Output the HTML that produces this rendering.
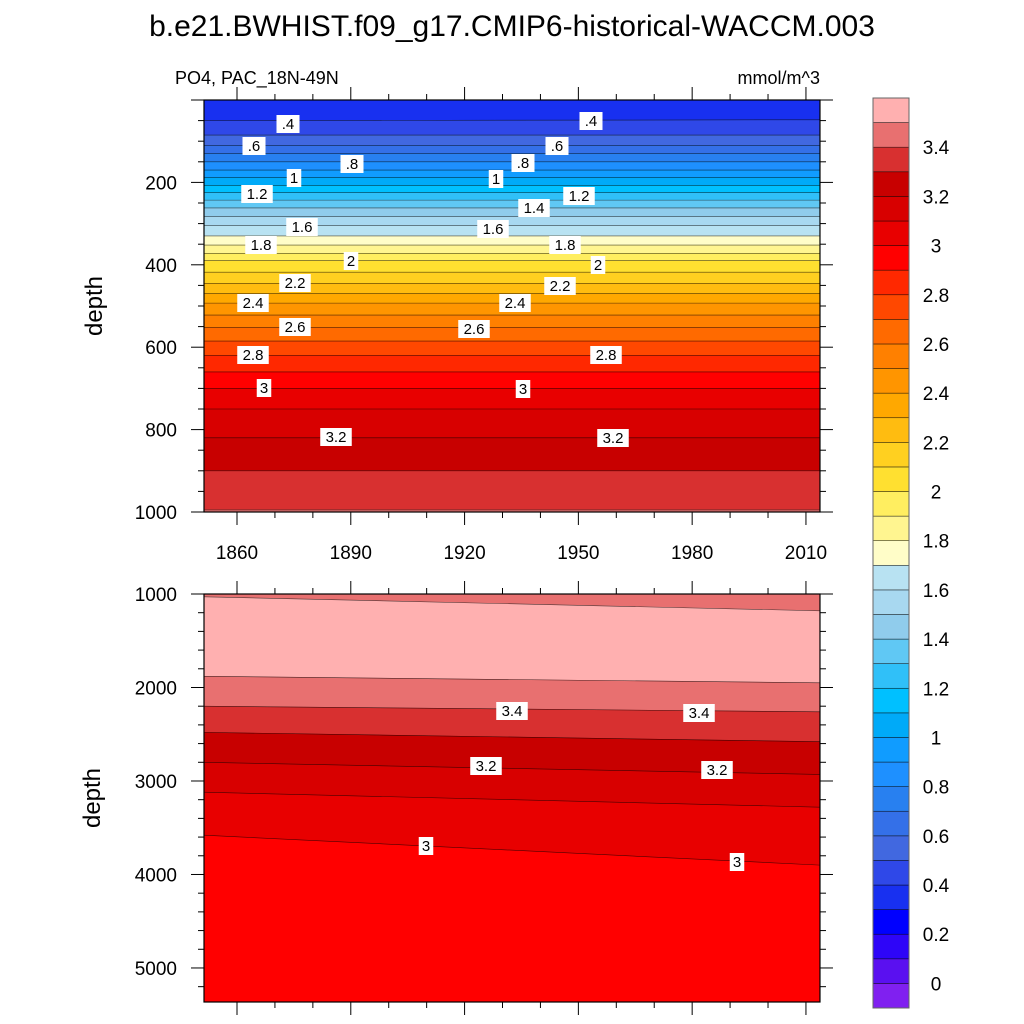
<!DOCTYPE html>
<html><head><meta charset="utf-8"><style>
html,body{margin:0;padding:0;background:#fff;width:1024px;height:1024px;overflow:hidden}
svg{display:block}
svg text{font-family:"Liberation Sans",sans-serif}
</style></head><body>
<svg id="s" width="1024" height="1024" viewBox="0 0 1024 1024">
<text x="512" y="36" font-size="30" text-anchor="middle">b.e21.BWHIST.f09_g17.CMIP6-historical-WACCM.003</text>
<text x="175" y="84" font-size="18">PO4, PAC_18N-49N</text>
<text x="820" y="84" font-size="18" text-anchor="end">mmol/m^3</text>
<g id="top"></g>
<g id="bot"></g>
<g id="cb"></g>
<g id="lab"></g>
<text transform="translate(102,306) rotate(-90)" font-size="24" text-anchor="middle">depth</text>
<text transform="translate(100,798) rotate(-90)" font-size="24" text-anchor="middle">depth</text>
</svg>
<script>
const colorLevels=[-0.1,0,0.1,0.2,0.3,0.4,0.5,0.6,0.7,0.8,0.9,1.0,1.1,1.2,1.3,1.4,1.5,1.6,1.7,1.8,1.9,2.0,2.1,2.2,2.3,2.4,2.5,2.6,2.7,2.8,2.9,3.0,3.1,3.2,3.3,3.4,3.5];
const colors=["#8020f0","#5a10f0","#2e05f8","#0000ff","#1830f0","#2f48e8","#4168e0","#3470e8","#2880f0","#1e90ff","#109cff","#00aaf8","#00c0ff","#30c0f8","#60c8f4","#90ccec","#a8d8f0","#b8e2f2","#fffdc8","#fff590","#ffee60","#ffe030","#ffd020","#ffbc10","#ffa800","#ff9500","#ff8000","#ff6a00","#ff4800","#ff2800","#ff0000","#e80000","#d80000","#c80000","#d83030","#e87070","#ffb0b0"];
const cbLabels=["0","0.2","0.4","0.6","0.8","1","1.2","1.4","1.6","1.8","2","2.2","2.4","2.6","2.8","3","3.2","3.4"];
const isoLevels=[0.4,0.5,0.6,0.7,0.8,0.9,1.0,1.1,1.2,1.3,1.4,1.5,1.6,1.7,1.8,1.9,2.0,2.1,2.2,2.3,2.4,2.5,2.6,2.7,2.8,2.9,3.0,3.1,3.2,3.3,3.4,3.5,3.5,3.4,3.3,3.2,3.1,3.0];
const isoDepthStart=[50,85,110,130,150,170,188,207,225,243,262,283,305,330,352,372,390,418,445,470,493,522,552,585,620,660,700,750,820,900,995,1030,1880,2200,2480,2800,3120,3580];
const isoDepthEnd=[48,85,110,130,150,170,188,207,225,243,262,283,305,330,352,372,390,418,445,470,493,522,552,585,620,660,700,750,820,900,995,1180,1950,2260,2580,2930,3280,3900];
const yearStart=1851.3, yearEnd=2013.7;
const xTicks=[1860,1890,1920,1950,1980,2010];
const topYTicks=[200,400,600,800,1000];
const botYTicks=[1000,2000,3000,4000,5000];

const NS="http://www.w3.org/2000/svg";
function mk(tag,attrs,parent){const e=document.createElementNS(NS,tag);for(const k in attrs)e.setAttribute(k,attrs[k]);parent.appendChild(e);return e;}
const X=yr=>237+(yr-1860)*3.793;
const panels=[{g:document.getElementById('top'),d0:0,d1:1000,y0:100,y1:512,name:'top'},
              {g:document.getElementById('bot'),d0:1000,d1:5364,y0:594,y1:1002,name:'bottom'}];
function Yf(p){return d=>p.y0+(d-p.d0)*(p.y1-p.y0)/(p.d1-p.d0);}
function colorIdx(v){for(let i=0;i<colorLevels.length;i++){if(Math.abs(colorLevels[i]-v)<1e-6)return i;}return 0;}
const xl=X(yearStart), xr=X(yearEnd);
panels.forEach(p=>{
  const Y=Yf(p);
  const cl=d=>Math.max(p.y0,Math.min(p.y1,Y(d)));
  const cp=mk('clipPath',{id:'clip-'+p.name},p.g);
  mk('rect',{x:xl,y:p.y0,width:xr-xl,height:p.y1-p.y0},cp);
  const fg=mk('g',{'clip-path':'url(#clip-'+p.name+')'},p.g);
  const n=isoLevels.length;
  for(let i=-1;i<n;i++){
    let ci;
    if(i<0) ci=colorIdx(Math.round((isoLevels[0]-0.1)*10)/10);
    else if(i==n-1) ci=colorIdx(Math.round((isoLevels[n-1]-0.1)*10)/10);
    else{const a=isoLevels[i],b=isoLevels[i+1];
      ci= Math.abs(a-b)<1e-6 ? colorIdx(a) : colorIdx(Math.min(a,b));}
    const ya1=i<0?p.y0:cl(isoDepthStart[i]), yb1=i<0?p.y0:cl(isoDepthEnd[i]);
    const ya2=i==n-1?p.y1:cl(isoDepthStart[i+1]), yb2=i==n-1?p.y1:cl(isoDepthEnd[i+1]);
    if(ya1===ya2 && yb1===yb2) continue;
    const band=mk('path',{d:`M${xl},${ya1}L${xr},${yb1}L${xr},${yb2}L${xl},${ya2}Z`,fill:colors[ci],stroke:colors[ci],'stroke-width':0.5},fg);
    
    
  }
  for(let i=0;i<n;i++){
    const a=Y(isoDepthStart[i]), b=Y(isoDepthEnd[i]);
    if((a<p.y0&&b<p.y0)||(a>p.y1&&b>p.y1)) continue;
    const ln=mk('line',{x1:xl,y1:cl(isoDepthStart[i]),x2:xr,y2:cl(isoDepthEnd[i]),stroke:'#000','stroke-width':0.6,'stroke-opacity':0.7},fg);
    
    
  }
  const fr=mk('rect',{x:xl,y:p.y0,width:xr-xl,height:p.y1-p.y0,fill:'none',stroke:'#000','stroke-width':1.2},p.g);
  
  
  for(let yr=1860;yr<=2010;yr+=10){
    const major=(yr-1860)%30==0, L=major?13:6;
    mk('line',{x1:X(yr),x2:X(yr),y1:p.y1,y2:p.y1+L,stroke:'#000','stroke-width':1},p.g);
    mk('line',{x1:X(yr),x2:X(yr),y1:p.y0,y2:p.y0-L,stroke:'#000','stroke-width':1},p.g);
  }
  const step=p.name=='top'?50:200, majorStep=p.name=='top'?200:1000;
  for(let d=Math.ceil(p.d0/step)*step; d<=p.d1; d+=step){
    const major=d%majorStep==0, L=major?13:6, y=Y(d);
    if(y<p.y0-0.5)continue;
    mk('line',{x1:xl,x2:xl-L,y1:y,y2:y,stroke:'#000','stroke-width':1},p.g);
    mk('line',{x1:xr,x2:xr+L,y1:y,y2:y,stroke:'#000','stroke-width':1},p.g);
  }
  const ticks=p.name=='top'?topYTicks:botYTicks;
  ticks.forEach(d=>{const t=mk('text',{x:177,y:Y(d)+7,'font-size':19,'text-anchor':'end'},p.g);t.textContent=d;
    });
  if(p.name=='top') xTicks.forEach(yr=>{const t=mk('text',{x:X(yr),y:559,'font-size':19,'text-anchor':'middle'},p.g);t.textContent=yr;
    });
});
const cb=document.getElementById('cb');
const cbTop=98, cbBot=1008, nb=colorLevels.length, bh=(cbBot-cbTop)/nb;
colors.forEach((c,i)=>{const r=mk('rect',{x:873,y:cbBot-(i+1)*bh,width:36,height:bh,fill:c,stroke:'#000','stroke-width':0.6,'stroke-opacity':0.7},cb);
  });
mk('rect',{x:873,y:cbTop,width:36,height:cbBot-cbTop,fill:'none',stroke:'#666','stroke-width':1},cb);
cbLabels.forEach((s,i)=>{const v=parseFloat(s);const y=cbBot-(v+0.1)/0.1*bh;
  const t=mk('text',{x:936,y:y+7,'font-size':19,'text-anchor':'middle'},cb);t.textContent=s;
  });
const labs=[[288,124,".4"],[591,121,".4"],[254,146,".6"],[557,146,".6"],[352,164,".8"],[523,163,".8"],[294,178,"1"],[496,179,"1"],[257,194,"1.2"],[579,196,"1.2"],[534,208,"1.4"],[302,227,"1.6"],[493,229,"1.6"],[261,245,"1.8"],[565,245,"1.8"],[351,261,"2"],[598,265,"2"],[295,283,"2.2"],[560,286,"2.2"],[253,303,"2.4"],[515,303,"2.4"],[295,327,"2.6"],[474,329,"2.6"],[253,355,"2.8"],[606,355,"2.8"],[264,388,"3"],[523,389,"3"],[336,437,"3.2"],[613,438,"3.2"],[512,711,"3.4"],[699,713,"3.4"],[486,766,"3.2"],[717,770,"3.2"],[426,846,"3"],[737,862,"3"]];
const lg=document.getElementById('lab');
labs.forEach(([x,y,s])=>{const w=s.length*8.5+6;
  const r=mk('rect',{x:x-w/2,y:y-9,width:w,height:18,fill:'#fff'},lg);
  
  const t=mk('text',{x:x,y:y+5,'font-size':15,'text-anchor':'middle'},lg);t.textContent=s;
  });
</script>
</body></html>
